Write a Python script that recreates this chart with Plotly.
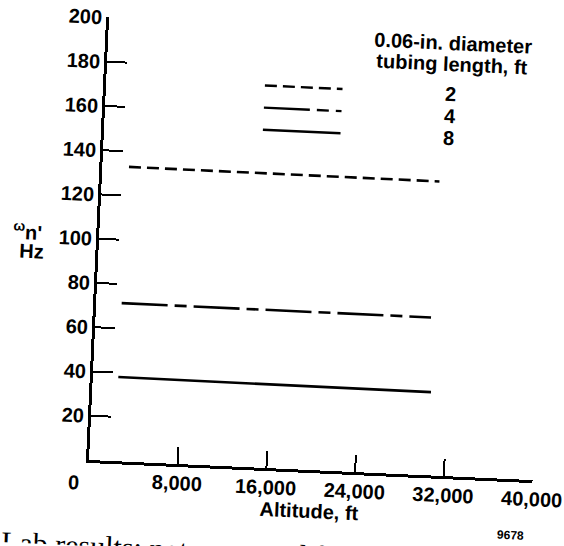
import plotly.graph_objects as go

# Natural frequency of 0.06-in. diameter tubing versus altitude
altitude_2ft = [2400, 30400]
omega_2ft = [133.0, 132.8]
altitude_4ft = [2300, 30200]
omega_4ft = [71.4, 71.3]
altitude_8ft = [2300, 30500]
omega_8ft = [38.0, 37.6]

tubing_lengths = ["2", "4", "8"]
key_altitude = [14300, 21300]
key_omega = [172.5, 162.5, 152.5]

x_ticks = [8000, 16000, 24000, 32000, 40000]
x_tick_text = ["8,000", "16,000", "24,000", "32,000", "40,000"]
y_ticks = [20, 40, 60, 80, 100, 120, 140, 160, 180, 200]

FONT = "Liberation Sans, Arial, Helvetica, sans-serif"
SIZE = 20
dashes = ["12px,6px", "46px,7px,12px,7px", "solid"]


def bold(size=SIZE):
    return dict(family=FONT, size=size, color="black", weight="bold")


fig = go.Figure()

series = [(altitude_2ft, omega_2ft), (altitude_4ft, omega_4ft), (altitude_8ft, omega_8ft)]
for (xs, ys), dash, name in zip(series, dashes, tubing_lengths):
    fig.add_trace(go.Scatter(x=xs, y=ys, mode="lines", name=name + " ft",
                             line=dict(color="black", width=2.6, dash=dash),
                             showlegend=False, hoverinfo="skip"))

# key lines with their tubing length labels
for hz, dash, name in zip(key_omega, dashes, tubing_lengths):
    fig.add_trace(go.Scatter(x=key_altitude, y=[hz, hz], mode="lines",
                             line=dict(color="black", width=2.4, dash=dash),
                             showlegend=False, hoverinfo="skip"))
    fig.add_annotation(x=31050, y=hz, text=name, showarrow=False,
                       xanchor="center", yanchor="middle", font=bold())

fig.add_annotation(x=31050, y=195.3, text="0.06-in. diameter", showarrow=False,
                   xanchor="center", yanchor="middle", font=bold())
fig.add_annotation(x=31050, y=186.2, text="tubing length, ft", showarrow=False,
                   xanchor="center", yanchor="middle", font=bold())

# corner zero shared by both axes
fig.add_annotation(x=0, y=0, text="0", showarrow=False, xshift=-15, yshift=-23,
                   xanchor="center", yanchor="middle", font=bold())

# vertical axis title
fig.add_annotation(xref="paper", yref="paper", x=(17 - 89) / 444.5, y=(460 - 233) / 443.5,
                   text="<sup>ω</sup>n'", showarrow=False, xanchor="center", yanchor="middle",
                   font=bold())
fig.add_annotation(xref="paper", yref="paper", x=(21.5 - 89) / 444.5, y=(460 - 253.6) / 443.5,
                   text="Hz", showarrow=False, xanchor="center", yanchor="middle",
                   font=bold())

# figure number
fig.add_annotation(xref="paper", yref="paper", x=(514 - 89) / 444.5, y=(460 - 516) / 443.5,
                   text="9678", showarrow=False, xanchor="center", yanchor="middle",
                   font=bold(12))

# caption line running below the figure
fig.add_annotation(xref="paper", yref="paper", x=(3 - 89) / 444.5, y=(460 - 527) / 443.5,
                   text="Lab results; not corrected for", showarrow=False,
                   xanchor="left", yanchor="top",
                   font=dict(family="Liberation Serif, Times New Roman, serif", size=30, color="black"))

fig.update_xaxes(range=[0, 40000], showline=True, linewidth=3, linecolor="black",
                 ticks="inside", ticklen=17, tickwidth=2, tickcolor="black",
                 tickvals=x_ticks, ticktext=x_tick_text, showgrid=False, zeroline=False,
                 automargin=False, ticklabelstandoff=-1, tickfont=bold(),
                 title=dict(text="Altitude, ft", standoff=5, font=bold()))
fig.update_yaxes(range=[0, 200], showline=True, linewidth=3, linecolor="black",
                 ticks="inside", ticklen=20, tickwidth=2, tickcolor="black",
                 tickvals=y_ticks, showgrid=False, zeroline=False,
                 automargin=False, tickfont=bold())

fig.update_layout(width=564, height=546,
                  margin=dict(l=89, r=30.5, t=16.5, b=86, pad=0),
                  paper_bgcolor="white", plot_bgcolor="white", showlegend=False)

# the printed page sits slightly turned on the sheet
turn_js = ("document.body.style.margin='0';"
           "var gd=document.getElementById('{plot_id}');"
           "gd.style.transformOrigin='89px 460px';"
           "gd.style.transform='rotate(2.6deg)';")

fig.write_html("out.html", post_script=turn_js, config={"displayModeBar": False})
